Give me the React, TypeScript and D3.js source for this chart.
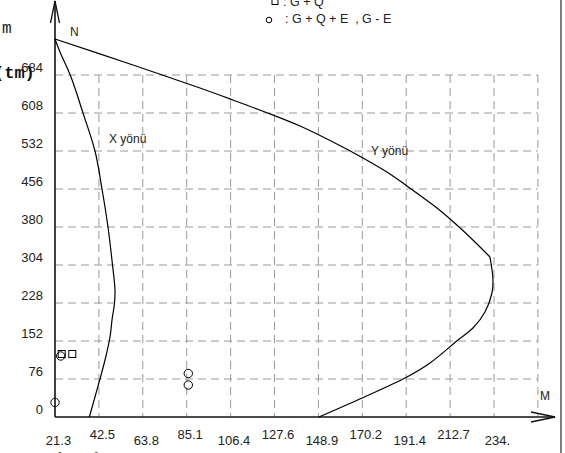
import React from "react";
import * as d3 from "d3";

// Moment envelope along building height (tm vs. m)
const heights = [0, 76, 152, 228, 304, 380, 456, 532, 608, 684];
const xTickValues = [21.27, 42.54, 63.81, 85.08, 106.35, 127.62, 148.89, 170.16, 191.43, 212.7, 233.97];
const xTickLabels = ["21.3", "42.5", "63.8", "85.1", "106.4", "127.6", "148.9", "170.2", "191.4", "212.7", "234."];
const gridEndX = 255.24;

// X direction moment curve: [moment, height]
const xDirM = [21.27, 23.69, 29.02, 34.84, 40.65, 44.04, 46.95, 49.13, 50.34, 50.1, 48.89, 47.92, 45.74, 43.07, 37.89];
const xDirH = [756, 730, 680, 608, 532, 456, 380, 304, 254, 228, 194, 160, 118, 76, 0];

// Y direction moment curve (kink at index 13)
const yDirM = [21.27, 57.61, 91.52, 107.51, 123.02, 139.97, 155.96, 170.5, 183.58, 191.81, 206.35, 216.52, 225.24, 232.03, 233.48, 232.99, 229.6, 223.78, 216.52, 202.95, 191.81, 170.02, 149.19];
const yDirH = [756, 706, 658, 634, 610, 582, 550, 518, 486, 462, 418, 382, 348, 320, 274, 248, 210, 178, 154, 108, 80, 38, 0];
const yDirKink = 13;

// Load combination points
const sqM = [24.52, 29.65];
const sqH = [126, 126];
const ciM = [24.03, 21.27, 85.85, 85.85];
const ciH = [122, 29, 87, 64];

const W = 565;
const H = 453;
const FONT = "'Liberation Sans', Arial, sans-serif";
const MONO = "'Liberation Mono', 'Courier New', monospace";

export default function App() {
  const x = d3.scaleLinear().domain([21.27, 233.97]).range([55, 494]);
  const y = d3.scaleLinear().domain([0, 684]).range([417, 75]);

  const line = d3
    .line<[number, number]>()
    .x((d) => x(d[0]))
    .y((d) => y(d[1]))
    .curve(d3.curveCatmullRom.alpha(0.5));

  const pts = (ms: number[], hs: number[]) => ms.map((m, i) => [m, hs[i]] as [number, number]);
  const xCurve = line(pts(xDirM, xDirH)) || "";
  const yPts = pts(yDirM, yDirH);
  const yCurveUpper = line(yPts.slice(0, yDirKink + 1)) || "";
  const yCurveLower = line(yPts.slice(yDirKink)) || "";

  const x0 = x(21.27);
  const y0 = y(0);
  const yTop = y(684);
  const xEnd = x(gridEndX);

  const gridStroke = "#9a9a9a";
  const dash = "8,5";

  return (
    <svg
      width={W}
      height={H}
      style={{ position: "absolute", left: 0, top: 0, background: "#fff" }}
      fontFamily={FONT}
    >
      <rect x={0} y={0} width={W} height={H} fill="#fff" />

      {/* horizontal grid */}
      {heights.slice(1).map((h) => (
        <line key={"hg" + h} x1={x0} x2={xEnd} y1={y(h)} y2={y(h)} stroke={gridStroke} strokeDasharray={dash} strokeWidth={1} />
      ))}
      {/* vertical grid */}
      {[...xTickValues.slice(1), gridEndX].map((v) => (
        <line key={"vg" + v} x1={x(v)} x2={x(v)} y1={yTop} y2={y0} stroke={gridStroke} strokeDasharray={dash} strokeWidth={1} />
      ))}

      {/* axes with open arrows */}
      <line x1={x0} x2={x0} y1={y0} y2={1} stroke="#111" strokeWidth={1.6} />
      <polyline points={`${x0 - 4.5},23 ${x0},1 ${x0 + 4.5},23`} fill="none" stroke="#111" strokeWidth={1.3} />
      <line x1={x0} x2={555} y1={y0} y2={y0} stroke="#111" strokeWidth={1.6} />
      <polyline points={`531,${y0 - 5} 555,${y0} 531,${y0 + 5}`} fill="none" stroke="#111" strokeWidth={1.3} />

      {/* frame edge */}
      <line x1={561} x2={561} y1={0} y2={H} stroke="#555" strokeWidth={1.5} />

      {/* y tick labels */}
      {heights.map((h) => (
        <text key={"yl" + h} x={43} y={y(h) - 3} textAnchor="end" fontSize={13} fill="#222">
          {h}
        </text>
      ))}

      {/* x tick labels, staggered */}
      {xTickValues.map((v, i) => (
        <text key={"xl" + v} x={x(v) + 3.5} y={i % 2 === 0 ? 445 : 439} textAnchor="middle" fontSize={13} fill="#222">
          {xTickLabels[i]}
        </text>
      ))}

      {/* curves */}
      <path d={xCurve} fill="none" stroke="#000" strokeWidth={1.2} />
      <path d={yCurveUpper} fill="none" stroke="#000" strokeWidth={1.2} />
      <path d={yCurveLower} fill="none" stroke="#000" strokeWidth={1.2} />

      {/* markers */}
      {sqM.map((m, i) => (
        <rect key={"sq" + i} x={x(m) - 3.5} y={y(sqH[i]) - 3.5} width={7} height={7} fill="none" stroke="#000" strokeWidth={1} />
      ))}
      {ciM.map((m, i) => (
        <circle key={"ci" + i} cx={x(m)} cy={y(ciH[i])} r={4.2} fill="none" stroke="#000" strokeWidth={1} />
      ))}

      {/* curve labels */}
      <text x={109} y={143} fontSize={12} fill="#222">X yönü</text>
      <text x={371} y={155} fontSize={12} fill="#222">Y yönü</text>

      {/* axis names */}
      <text x={70} y={36} fontSize={12} fill="#222">N</text>
      <text x={540} y={400} fontSize={12} fill="#222">M</text>
      <text x={2} y={33} fontSize={16} fontFamily={MONO} fill="#222">m</text>
      <text x={-6} y={78} fontSize={17} fontWeight="bold" fontFamily={MONO} fill="#111">(tm)</text>
      <text x={54} y={464} fontSize={16} fontWeight="bold" fontFamily={MONO} fill="#555">(t m)</text>

      {/* legend */}
      <rect x={272} y={-1.5} width={6} height={6} fill="none" stroke="#000" strokeWidth={1} />
      <text x={283} y={6} fontSize={12.5} fill="#222">: G + Q</text>
      <circle cx={269} cy={20} r={2.8} fill="none" stroke="#000" strokeWidth={1} />
      <text x={285} y={23} fontSize={12.5} fill="#222" style={{ whiteSpace: "pre" }}>: G + Q + E  , G - E</text>
    </svg>
  );
}
